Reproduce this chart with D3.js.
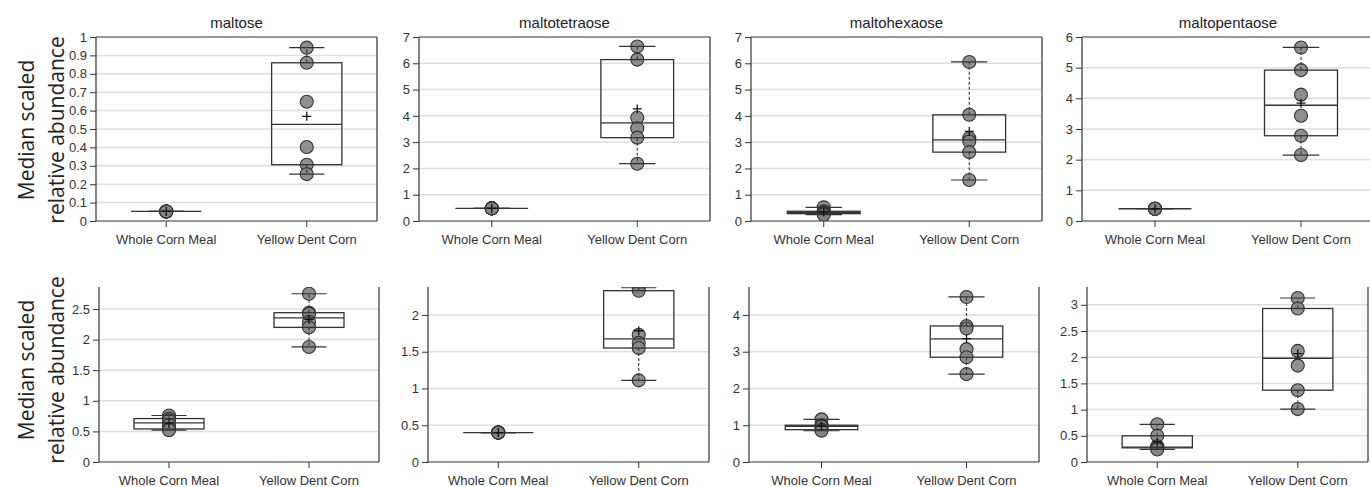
<!DOCTYPE html>
<html>
<head>
<meta charset="utf-8">
<script src="https://cdn.jsdelivr.net/npm/d3@7"></script>
<style>
  html, body { margin: 0; padding: 0; background: #fff; }
  svg { display: block; }
  .tick text { font-family: "Liberation Sans", Arial, sans-serif; fill: #333; }
</style>
</head>
<body>
<svg id="chart" width="1370" height="487"></svg>
<script>
// Sample groups on the x axis
const groups = ["Whole Corn Meal", "Yellow Dent Corn"];

// Upper row: one panel per sugar
const titles = ["maltose", "maltotetraose", "maltohexaose", "maltopentaose"];

const maltoseWCM = [0.052, 0.052, 0.052, 0.052, 0.052, 0.052];
const maltoseYDC = [0.942, 0.860, 0.648, 0.402, 0.306, 0.255];
const maltotetraoseWCM = [0.48, 0.48, 0.48, 0.48, 0.48, 0.48];
const maltotetraoseYDC = [6.64, 6.14, 3.93, 3.53, 3.17, 2.18];
const maltohexaoseWCM = [0.52, 0.37, 0.35, 0.31, 0.28, 0.24];
const maltohexaoseYDC = [6.05, 4.04, 3.15, 3.03, 2.62, 1.56];
const maltopentaoseWCM = [0.40, 0.40, 0.40, 0.40, 0.40, 0.40];
const maltopentaoseYDC = [5.66, 4.92, 4.12, 3.43, 2.78, 2.15];

// Lower row
const lower1WCM = [0.76, 0.71, 0.68, 0.60, 0.54, 0.52];
const lower1YDC = [2.75, 2.44, 2.42, 2.29, 2.20, 1.88];
const lower2WCM = [0.40, 0.40, 0.40, 0.40, 0.40, 0.40];
const lower2YDC = [2.37, 2.33, 1.73, 1.62, 1.55, 1.11];
const lower3WCM = [1.16, 1.00, 0.98, 0.96, 0.88, 0.85];
const lower3YDC = [4.49, 3.70, 3.63, 3.07, 2.85, 2.39];
const lower4WCM = [0.72, 0.50, 0.30, 0.27, 0.27, 0.24];
const lower4YDC = [3.13, 2.93, 2.12, 1.84, 1.37, 1.01];

// y tick values per panel
const ticksMaltose = [0, 0.1, 0.2, 0.3, 0.4, 0.5, 0.6, 0.7, 0.8, 0.9, 1];
const ticksMaltotetraose = [0, 1, 2, 3, 4, 5, 6, 7];
const ticksMaltohexaose = [0, 1, 2, 3, 4, 5, 6, 7];
const ticksMaltopentaose = [0, 1, 2, 3, 4, 5, 6];
const ticksLower1 = [0, 0.5, 1, 1.5, 2, 2.5];
const ticksLower2 = [0, 0.5, 1, 1.5, 2];
const ticksLower3 = [0, 1, 2, 3, 4];
const ticksLower4 = [0, 0.5, 1, 1.5, 2, 2.5, 3];

// y-axis upper limits
const yMaxUpper = [1, 7, 7, 6];
const yMaxLower = [2.86, 2.38, 4.76, 3.34];

const yLabelLines = ["Median scaled", "relative abundance"];

// Panel frames (pixel geometry)
const upperFrames = [
  { x0: 96, x1: 377 }, { x0: 419, x1: 710 }, { x0: 751, x1: 1042 }, { x0: 1082, x1: 1374 }
];
const lowerFrames = [
  { x0: 99, x1: 379 }, { x0: 428, x1: 709 }, { x0: 749, x1: 1039 }, { x0: 1087, x1: 1368 }
];

const panels = [
  { row: 0, title: titles[0], series: [maltoseWCM, maltoseYDC], ticks: ticksMaltose, yMax: yMaxUpper[0], frame: upperFrames[0] },
  { row: 0, title: titles[1], series: [maltotetraoseWCM, maltotetraoseYDC], ticks: ticksMaltotetraose, yMax: yMaxUpper[1], frame: upperFrames[1] },
  { row: 0, title: titles[2], series: [maltohexaoseWCM, maltohexaoseYDC], ticks: ticksMaltohexaose, yMax: yMaxUpper[2], frame: upperFrames[2] },
  { row: 0, title: titles[3], series: [maltopentaoseWCM, maltopentaoseYDC], ticks: ticksMaltopentaose, yMax: yMaxUpper[3], frame: upperFrames[3] },
  { row: 1, title: null, series: [lower1WCM, lower1YDC], ticks: ticksLower1, yMax: yMaxLower[0], frame: lowerFrames[0] },
  { row: 1, title: null, series: [lower2WCM, lower2YDC], ticks: ticksLower2, yMax: yMaxLower[1], frame: lowerFrames[1] },
  { row: 1, title: null, series: [lower3WCM, lower3YDC], ticks: ticksLower3, yMax: yMaxLower[2], frame: lowerFrames[2] },
  { row: 1, title: null, series: [lower4WCM, lower4YDC], ticks: ticksLower4, yMax: yMaxLower[3], frame: lowerFrames[3] }
];

const rows = [
  { top: 37, bottom: 221, boxed: true, labelY: 130 },
  { top: 287, bottom: 462, boxed: false, labelY: 370 }
];

const ink = "#333";
const svg = d3.select("#chart");
const fmt = d => String(+d.toFixed(2));

// Tukey hinges box statistics
function boxStats(values) {
  const s = values.slice().sort(d3.ascending);
  const n = s.length;
  const lower = s.slice(0, Math.ceil(n / 2));
  const upper = s.slice(Math.floor(n / 2));
  return {
    min: s[0], max: s[n - 1],
    q1: d3.median(lower), q3: d3.median(upper),
    med: d3.median(s), mean: d3.mean(s)
  };
}

panels.forEach((p, i) => {
  const r = rows[p.row];
  const w = p.frame.x1 - p.frame.x0;
  const h = r.bottom - r.top;
  const g = svg.append("g").attr("transform", `translate(${p.frame.x0},${r.top})`);

  const x = d3.scaleBand().domain(groups).range([0, w]).padding(0);
  const y = d3.scaleLinear().domain([0, p.yMax]).range([h, 0]);

  // grid
  g.append("g").selectAll("line")
    .data(p.ticks.filter(t => t > 0 && t < p.yMax))
    .join("line")
    .attr("x1", 0).attr("x2", w)
    .attr("y1", d => y(d)).attr("y2", d => y(d))
    .attr("stroke", "#dedede").attr("stroke-width", 1.5);

  // y axis
  const ya = g.append("g")
    .call(d3.axisLeft(y).tickValues(p.ticks).tickFormat(fmt).tickSize(6).tickPadding(3));
  ya.select(".domain").remove();
  ya.selectAll(".tick line").attr("stroke", ink);
  ya.selectAll(".tick text").attr("font-size", 13);

  // x axis
  const xa = g.append("g").attr("transform", `translate(0,${h})`)
    .call(d3.axisBottom(x).tickSize(6).tickPadding(8));
  xa.select(".domain").remove();
  xa.selectAll(".tick line").attr("stroke", ink);
  xa.selectAll(".tick text").attr("font-size", 13);

  // frame
  const frame = g.append("g").attr("fill", "none").attr("stroke", ink).attr("stroke-width", 1.2);
  frame.append("line").attr("x1", 0).attr("x2", 0).attr("y1", 0).attr("y2", h);
  frame.append("line").attr("x1", 0).attr("x2", w).attr("y1", h).attr("y2", h);
  frame.append("line").attr("x1", w).attr("x2", w).attr("y1", 0).attr("y2", h);
  if (r.boxed) frame.append("line").attr("x1", 0).attr("x2", w).attr("y1", 0).attr("y2", 0);

  // clip data marks to the plot area
  const clipId = "clip" + i;
  g.append("clipPath").attr("id", clipId)
    .append("rect").attr("x", 0).attr("y", 0).attr("width", w).attr("height", h);
  const plot = g.append("g").attr("clip-path", `url(#${clipId})`);

  const bw = x.bandwidth() * 0.5;
  const capHalf = bw / 4;

  groups.forEach((grp, gi) => {
    const vals = p.series[gi];
    const st = boxStats(vals);
    const cx = x(grp) + x.bandwidth() / 2;

    // points
    plot.append("g").selectAll("circle")
      .data(vals)
      .join("circle")
      .attr("cx", cx).attr("cy", d => y(d)).attr("r", 6.5)
      .attr("fill", "#858585").attr("fill-opacity", 0.92)
      .attr("stroke", ink).attr("stroke-width", 1.1);

    const b = plot.append("g").attr("stroke", ink).attr("fill", "none");
    // whiskers
    b.append("line").attr("x1", cx).attr("x2", cx).attr("y1", y(st.q3)).attr("y2", y(st.max))
      .attr("stroke-width", 1.1).attr("stroke-dasharray", "3,2");
    b.append("line").attr("x1", cx).attr("x2", cx).attr("y1", y(st.q1)).attr("y2", y(st.min))
      .attr("stroke-width", 1.1).attr("stroke-dasharray", "3,2");
    [st.min, st.max].forEach(v => {
      b.append("line").attr("x1", cx - capHalf).attr("x2", cx + capHalf)
        .attr("y1", y(v)).attr("y2", y(v)).attr("stroke-width", 1.2);
    });
    // box
    b.append("rect").attr("x", cx - bw / 2).attr("width", bw)
      .attr("y", y(st.q3)).attr("height", Math.max(0, y(st.q1) - y(st.q3)))
      .attr("stroke-width", 1.3);
    b.append("line").attr("x1", cx - bw / 2).attr("x2", cx + bw / 2)
      .attr("y1", y(st.med)).attr("y2", y(st.med)).attr("stroke-width", 1.3);
    // mean marker
    const my = y(st.mean);
    b.append("path")
      .attr("d", `M${cx - 4.5},${my}H${cx + 4.5}M${cx},${my - 4.5}V${my + 4.5}`)
      .attr("stroke", "#111").attr("stroke-width", 1.3);
  });

  if (p.title) {
    g.append("text")
      .attr("x", w / 2).attr("y", -9)
      .attr("text-anchor", "middle")
      .attr("font-family", "Liberation Sans, Arial, sans-serif")
      .attr("font-size", 15).attr("fill", "#222")
      .text(p.title);
  }
});

// y-axis titles, one per row
rows.forEach(r => {
  const t = svg.append("text")
    .attr("transform", `translate(34,${r.labelY}) rotate(-90)`)
    .attr("text-anchor", "middle")
    .attr("font-family", "Open Sans, sans-serif")
    .attr("font-size", 21).attr("fill", "#222");
  t.append("tspan").attr("x", 0).attr("y", 0).text(yLabelLines[0]);
  t.append("tspan").attr("x", 0).attr("y", 30).text(yLabelLines[1]);
});
</script>
</body>
</html>
